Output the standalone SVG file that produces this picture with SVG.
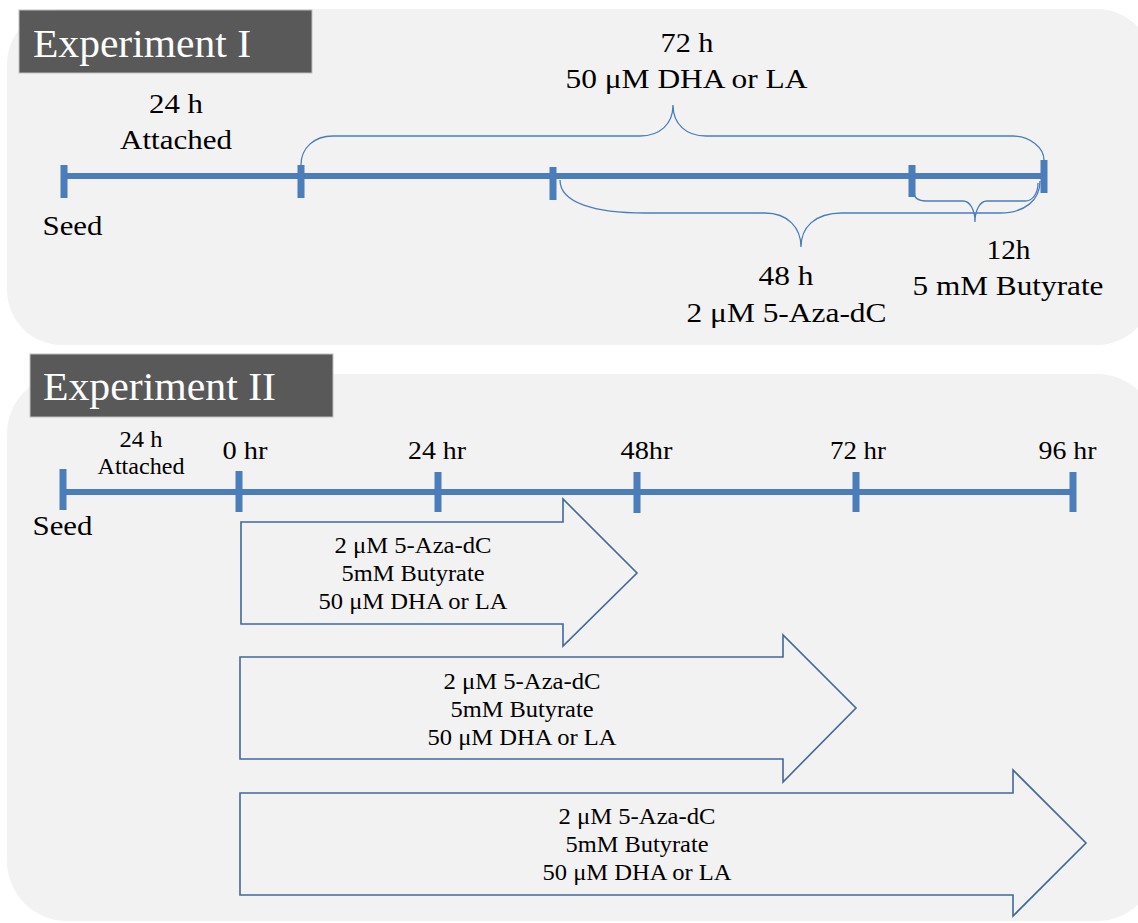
<svg xmlns="http://www.w3.org/2000/svg" width="1138" height="923" viewBox="0 0 1138 923">
<defs>
<style>
.panel{fill:#f2f2f2;stroke:none}
.title{fill:#595959;stroke:#bfbfbf;stroke-width:1}
.ttext{font-family:"Liberation Serif","Times New Roman",serif;font-size:41px;fill:#ffffff}
.t{font-family:"Liberation Serif","Times New Roman",serif;fill:#000;text-anchor:middle}
.s28{font-size:28px}
.s26{font-size:25px}
.s24{font-size:24px}
.tl{stroke:#4a7dba;stroke-width:6;fill:none}
.tick{stroke:#4a7dba;stroke-width:7;fill:none}
.brace{stroke:#4a7dba;stroke-width:1.3;fill:none}
.arrow{fill:#f2f2f2;stroke:#41689a;stroke-width:1.6;stroke-linejoin:miter}
</style>
</defs>
<rect class="panel" x="7" y="9" width="1145" height="336" rx="55" ry="55"/>
<rect class="panel" x="7" y="374" width="1150" height="547" rx="60" ry="60"/>

<g id="title1">
<rect class="title" x="19" y="10" width="293" height="63"/>
<text class="ttext" x="33" y="57" textLength="218" lengthAdjust="spacingAndGlyphs">Experiment I</text>
</g>
<g id="title2">
<rect class="title" x="30" y="354" width="303" height="63"/>
<text class="ttext" x="43" y="400" textLength="233" lengthAdjust="spacingAndGlyphs">Experiment II</text>
</g>

<g id="timeline1">
<line class="tl" x1="64" y1="176" x2="1044" y2="176"/>
<line class="tick" x1="64" y1="165" x2="64" y2="198"/>
<line class="tick" x1="301" y1="165" x2="301" y2="198"/>
<line class="tick" x1="553" y1="167" x2="553" y2="200"/>
<line class="tick" x1="912" y1="165" x2="912" y2="197"/>
<line class="tick" x1="1044" y1="160" x2="1044" y2="193"/>
</g>

<g id="braces1">
<path class="brace" d="M301,165 C301,148 314,136 333,136 L640,136 C660,136 673,124 673,105 C673,124 686,136 706,136 L1013,136 C1030,136 1044,148 1044,160"/>
<path class="brace" d="M560,180 C560,203 595,213 645,213 L765,213 C788,213 801,228 801,247 C801,228 814,213 842,213 L1000,213 C1025,213 1040,200 1040,181"/>
<path class="brace" d="M914,192 C914,198 918,201 926,201 L963,201 C970,201 975,210 975,222 C975,210 980,201 987,201 L1025,201 C1033,201 1038,193 1038,183"/>
</g>

<g id="labels1">
<text class="t s28" x="176" y="113" textLength="54" lengthAdjust="spacingAndGlyphs">24 h</text>
<text class="t s28" x="176" y="149" textLength="112" lengthAdjust="spacingAndGlyphs">Attached</text>
<text class="t s28" x="72.5" y="235" textLength="60" lengthAdjust="spacingAndGlyphs">Seed</text>
<text class="t s28" x="687" y="52" textLength="53" lengthAdjust="spacingAndGlyphs">72 h</text>
<text class="t s28" x="686.5" y="88" textLength="242" lengthAdjust="spacingAndGlyphs">50 μM DHA or LA</text>
<text class="t s28" x="786" y="285" textLength="55" lengthAdjust="spacingAndGlyphs">48 h</text>
<text class="t s28" x="786.5" y="322" textLength="200" lengthAdjust="spacingAndGlyphs">2 μM 5-Aza-dC</text>
<text class="t s28" x="1008.5" y="259" textLength="44" lengthAdjust="spacingAndGlyphs">12h</text>
<text class="t s28" x="1008" y="295" textLength="191" lengthAdjust="spacingAndGlyphs">5 mM Butyrate</text>
</g>

<g id="timeline2">
<line class="tl" x1="63" y1="492" x2="1073" y2="492"/>
<line class="tick" x1="63" y1="469" x2="63" y2="510"/>
<line class="tick" x1="239" y1="471" x2="239" y2="512"/>
<line class="tick" x1="438" y1="472" x2="438" y2="512"/>
<line class="tick" x1="637" y1="472" x2="637" y2="513"/>
<line class="tick" x1="856" y1="472" x2="856" y2="512"/>
<line class="tick" x1="1073" y1="472" x2="1073" y2="512"/>
</g>

<g id="labels2">
<text class="t s24" x="141" y="447" textLength="43" lengthAdjust="spacingAndGlyphs">24 h</text>
<text class="t s24" x="141" y="474" textLength="87" lengthAdjust="spacingAndGlyphs">Attached</text>
<text class="t s28" x="62.5" y="535" textLength="60" lengthAdjust="spacingAndGlyphs">Seed</text>
<text class="t s26" x="245" y="459" textLength="45" lengthAdjust="spacingAndGlyphs">0 hr</text>
<text class="t s26" x="437" y="459" textLength="58" lengthAdjust="spacingAndGlyphs">24 hr</text>
<text class="t s26" x="646.5" y="459" textLength="52" lengthAdjust="spacingAndGlyphs">48hr</text>
<text class="t s26" x="858" y="459" textLength="56" lengthAdjust="spacingAndGlyphs">72 hr</text>
<text class="t s26" x="1067.5" y="459" textLength="58" lengthAdjust="spacingAndGlyphs">96 hr</text>
</g>

<g id="arrow1">
<polygon class="arrow" points="241,522 563,522 563,499 637,573 563,646 563,624 241,624"/>
<text class="t s24" x="413" y="553" textLength="157" lengthAdjust="spacingAndGlyphs">2 μM 5-Aza-dC</text>
<text class="t s24" x="413" y="581" textLength="143" lengthAdjust="spacingAndGlyphs">5mM Butyrate</text>
<text class="t s24" x="413" y="609" textLength="189" lengthAdjust="spacingAndGlyphs">50 μM DHA or LA</text>
</g>
<g id="arrow2">
<polygon class="arrow" points="240,657 783,657 783,635 856,708 783,782 783,759 240,759"/>
<text class="t s24" x="522" y="689" textLength="157" lengthAdjust="spacingAndGlyphs">2 μM 5-Aza-dC</text>
<text class="t s24" x="522" y="717" textLength="143" lengthAdjust="spacingAndGlyphs">5mM Butyrate</text>
<text class="t s24" x="522" y="745" textLength="189" lengthAdjust="spacingAndGlyphs">50 μM DHA or LA</text>
</g>
<g id="arrow3">
<polygon class="arrow" points="240,793 1013,793 1013,770 1086,843 1013,916 1013,895 240,895"/>
<text class="t s24" x="637" y="824" textLength="157" lengthAdjust="spacingAndGlyphs">2 μM 5-Aza-dC</text>
<text class="t s24" x="637" y="852" textLength="143" lengthAdjust="spacingAndGlyphs">5mM Butyrate</text>
<text class="t s24" x="637" y="880" textLength="189" lengthAdjust="spacingAndGlyphs">50 μM DHA or LA</text>
</g>
</svg>
